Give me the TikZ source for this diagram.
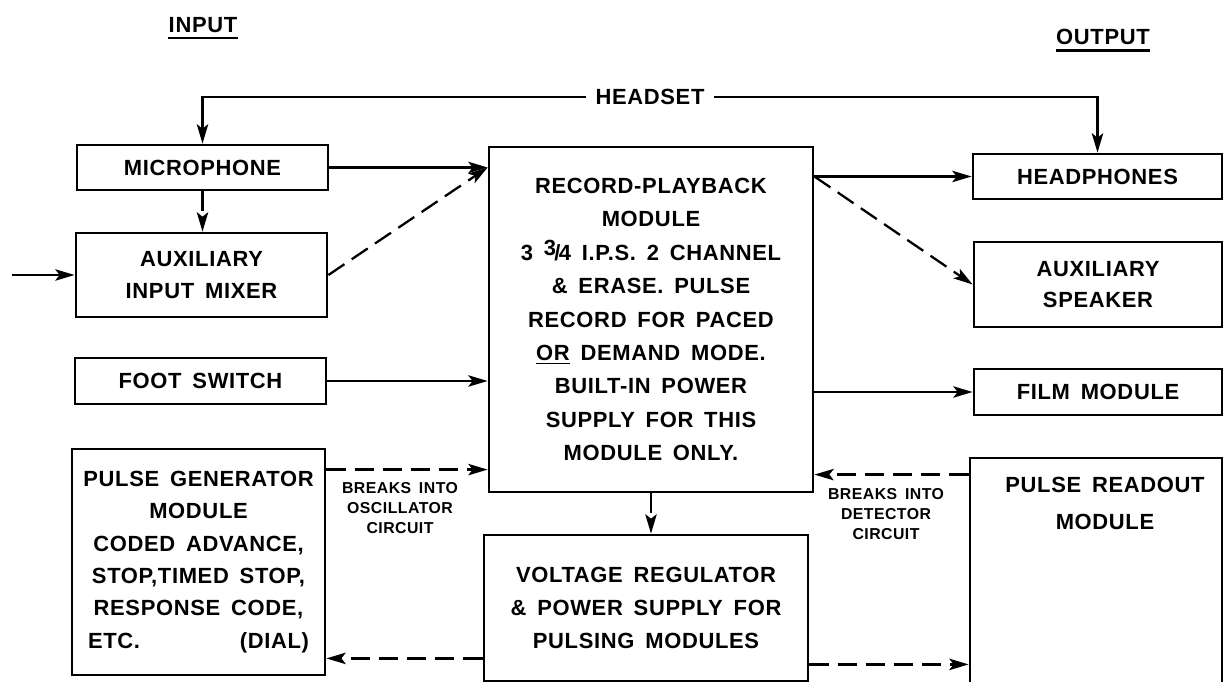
\documentclass[tikz,border=0pt]{standalone}
\usepackage{fontspec}
\newfontfamily\dfont{Liberation Sans}[LetterSpace=3,WordSpace=1.6]
\usetikzlibrary{arrows.meta,calc}
\begin{document}
\begin{tikzpicture}[x=0.02cm,y=-0.02cm,
  txt/.style={font=\dfont\bfseries\fontsize{12.5}{19}\selectfont,align=center,inner sep=0pt},
  box/.style n args={2}{draw,line width=1.6pt,inner sep=0pt,align=center,
     font=\dfont\bfseries\fontsize{12.5}{19}\selectfont,
     minimum width=#1*0.02cm,minimum height=#2*0.02cm},
  small/.style={font=\dfont\bfseries\fontsize{9}{11.3}\selectfont,align=center,inner sep=0pt},
  arr/.style={line width=1.3pt,-{Stealth[length=11pt,width=6.5pt,inset=2.5pt]}},
  dsh/.style={arr,dash pattern=on 11pt off 5pt}]
\useasboundingbox (0,0) rectangle (1224,682);

% headings
\node[txt] (in) at (203,25) {INPUT};
\node[txt] (out) at (1103,37) {OUTPUT};
\draw[line width=1.3pt] ([yshift=-3pt]in.south west) -- ([yshift=-3pt]in.south east);
\draw[line width=1.3pt] ([yshift=-3pt]out.south west) -- ([yshift=-3pt]out.south east);

% boxes
\node[box={251}{45}] (mic) at (202.5,167.5) {MICROPHONE};
\node[box={251}{84},font=\dfont\bfseries\fontsize{12.5}{18.7}\selectfont] (aux) at (201.5,275) {AUXILIARY\\INPUT MIXER};
\node[box={251}{46}] (foot) at (200.5,381) {FOOT SWITCH};
\node[box={253}{226},font=\dfont\bfseries\fontsize{12.5}{18.4}\selectfont] (pgen) at (198.5,562)
  {PULSE GENERATOR\\MODULE\\CODED ADVANCE,\\STOP,TIMED STOP,\\RESPONSE CODE,\\\makebox[4.42cm]{ETC.\hfill(DIAL)}};
\node[box={324}{345}] (rp) at (651,319.5)
  {RECORD-PLAYBACK\\MODULE\\3 {\raisebox{3pt}{3}\kern-1pt/\kern-1pt4} I.P.S. 2 CHANNEL\\\& ERASE. PULSE\\RECORD FOR PACED\\\underline{OR} DEMAND MODE.\\BUILT-IN POWER\\SUPPLY FOR THIS\\MODULE ONLY.};
\node[box={324}{146},font=\dfont\bfseries\fontsize{12.5}{18.7}\selectfont] (vr) at (646,608)
  {VOLTAGE REGULATOR\\\& POWER SUPPLY FOR\\PULSING MODULES};
\node[box={249}{45}] (hp) at (1097.5,176.5) {HEADPHONES};
\node[box={248}{85},font=\dfont\bfseries\fontsize{12.5}{18}\selectfont] (spk) at (1098,284.5) {AUXILIARY\\SPEAKER};
\node[box={248}{46}] (film) at (1098,392) {FILM MODULE};
\node[box={252}{250}] (ro) at (1096,583) {};
\node[txt,font=\dfont\bfseries\fontsize{12.5}{21}\selectfont] (rotxt) at (1105,503) {PULSE READOUT\\MODULE};

% headset
\node[txt] (hs) at (650,97) {HEADSET};
\draw[arr] ([xshift=-5pt]hs.west) -| (mic.north);
\draw[arr] ([xshift=5pt]hs.east) -| (hp.north);

% input side
\coordinate (inp) at (12,275);
\draw[arr] (inp) -- (aux.west);
\draw[dsh] (mic.south) -- (mic.south |- aux.north);
\draw[arr] (mic.east) -- (rp.west |- mic.east);
\draw[dsh] (aux.east) -- (rp.west |- mic.east);
\draw[arr] (foot.east) -- (rp.west |- foot.east);
\coordinate (pg1) at ($(pgen.north east)+(0,22)$);
\draw[dsh] (pg1) -- (rp.west |- pg1);
\node[small] (osc) at (400,508) {BREAKS INTO\\OSCILLATOR\\CIRCUIT};

% centre
\draw[dsh] (rp.south) -- (rp.south |- vr.north);
\coordinate (vr1) at ($(vr.south west)+(0,-24)$);
\draw[dsh] (vr1) -- (pgen.east |- vr1);
\coordinate (vr2) at ($(vr.south east)+(0,-18)$);
\draw[dsh] (vr2) -- (ro.west |- vr2);

% output side
\draw[arr] (rp.east |- hp.west) -- (hp.west);
\draw[dsh] (rp.east |- hp.west) -- (spk.west);
\draw[arr] (rp.east |- film.west) -- (film.west);
\coordinate (ro1) at ($(ro.north west)+(0,18)$);
\draw[dsh] (ro1) -- (rp.east |- ro1);
\node[small] (det) at (886,514) {BREAKS INTO\\DETECTOR\\CIRCUIT};
\end{tikzpicture}
\end{document}
